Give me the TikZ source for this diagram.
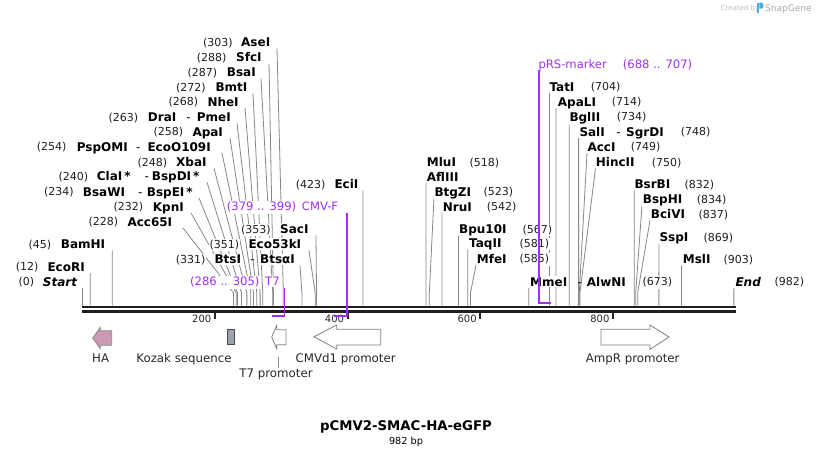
\documentclass[tikz,border=0pt]{standalone}
\usepackage{fontspec}
\setmainfont{DejaVu Sans}
\usetikzlibrary{calc}
\pgfdeclarelayer{back}
\pgfdeclarelayer{bg}
\pgfdeclarelayer{fore}
\pgfsetlayers{back,bg,main,fore}
\definecolor{prim}{RGB}{160,48,240}
\definecolor{leadc}{RGB}{135,135,135}
\definecolor{hafill}{RGB}{204,153,178}
\definecolor{kozfill}{RGB}{156,163,172}
\definecolor{featc}{RGB}{40,40,40}
\definecolor{wmc}{RGB}{190,190,190}
\definecolor{logoc}{RGB}{80,170,225}
\tikzset{
  labbg/.style={fill=white,inner xsep=0.6pt,inner ysep=1.2pt},
  numsty/.style={anchor=base west,labbg,font=\fontsize{11}{13}\selectfont,text=black!88},
  namesty/.style={anchor=base west,labbg,font=\fontsize{12}{14}\selectfont\bfseries,text=black},
  dashsty/.style={anchor=base west,inner xsep=0.6pt,inner ysep=1.2pt,font=\fontsize{12}{14}\selectfont,text=black},
  primsty/.style={anchor=base west,labbg,font=\fontsize{11.6}{14}\selectfont,text=prim},
  leadline/.style={draw=leadc,line width=0.8pt},
  primline/.style={draw=prim,line width=1.6pt},
  featlab/.style={anchor=base,inner sep=0pt,font=\fontsize{11.8}{14}\selectfont,text=featc},
  featarrow/.style={draw=black!50,line width=0.8pt,fill=white},
  ticksty/.style={draw=black!85,line width=2pt},
  ticklab/.style={anchor=base east,inner sep=0pt,font=\fontsize{10}{12}\selectfont,text=black!85},
}
\newcommand\enz[8]{%
  \node[numsty] (n-#1) at (#2-0.6,#6+4.2) {#3};
  \node[namesty] (t-#1) at (#4-0.6,#6+4.4) {#5};
  \coordinate (a-#1) at (#7,#6+6.3);
  \coordinate (s-#1) at ({82.3+0.6635*#8},305.5);
  \begin{pgfonlayer}{bg}
  \draw[leadline] (a-#1) -- (s-#1 |- knee) -- (s-#1);
  \end{pgfonlayer}
}
\newcommand\second[5]{%
  \node[dashsty] (d-#1) at (#2-0.6,#4+4.4) {-};
  \node[namesty] (u-#1) at (#3-0.6,#4+4.4) {#5};
}
\begin{document}
\begin{tikzpicture}[x=1pt,y=-1pt]
\begin{pgfonlayer}{back}
\fill[white] (0,0) rectangle (818,456);
\end{pgfonlayer}
\useasboundingbox (0,0) rectangle (818,456);
\coordinate (knee) at (0,293);

% watermark
\node[anchor=base west,inner sep=0pt,font=\fontsize{7}{8}\selectfont,text=wmc] (wm1) at (720.5,10) {Created by};
\fill[logoc] (757.3,2.5) rectangle (759.3,13);
\fill[logoc] (759.3,2.5) -- (761.3,2.5) .. controls (764.3,2.5) and (764.3,8.5) .. (761.3,8.5) -- (759.3,8.5) -- cycle;
\node[anchor=base west,inner sep=0pt,font=\fontsize{9}{10}\selectfont,text=wmc!90!black] (wm2) at (765,11) {SnapGene};

% backbone
\draw[line width=2.7pt,black!88] (82,307) -- (736,307);
\draw[line width=2.4pt,black!88] (82,311.5) -- (736,311.5);

% ticks
\foreach \t in {200,400,600,800}{
  \coordinate (tk\t) at ({82.3+0.6635*\t},312.5);
  \draw[ticksty] (tk\t) -- ++(0,6.5);
  \node[ticklab] (tl\t) at ({82.3+0.6635*\t-3.5},322.6) {\t};
}

% left-hand enzymes
\enz{AseI}{203}{(303)}{241}{AseI}{42.3}{277}{303}
\enz{SfcI}{196.7}{(288)}{236}{SfcI}{57.3}{269}{288}
\enz{BsaI}{187.3}{(287)}{226.7}{BsaI}{72.3}{261}{287}
\enz{BmtI}{176}{(272)}{215.3}{BmtI}{87}{253}{272}
\enz{NheI}{168.3}{(268)}{207.3}{NheI}{101.7}{245}{268}
\enz{DraI}{108.3}{(263)}{147.7}{DraI}{117}{237}{263}
\second{PmeI}{186.2}{196.7}{117}{PmeI}
\enz{ApaI}{153.3}{(258)}{192.3}{ApaI}{131.7}{230}{258}
\enz{PspOMI}{36.7}{(254)}{76.7}{PspOMI}{146.7}{222}{254}
\second{EcoOI}{136}{147.3}{146.7}{EcoO109I}
\enz{XbaI}{137.3}{(248)}{176}{XbaI}{162}{214}{248}
\enz{ClaI}{58.3}{(240)}{96.7}{ClaI\,*}{176}{207}{240}
\second{BspDI}{144.5}{151.7}{176}{BspDI\,*}
\enz{BsaWI}{44}{(234)}{82.7}{BsaWI}{191.7}{199}{234}
\second{BspEI}{137.8}{146.7}{191.7}{BspEI\,*}
\enz{KpnI}{113.3}{(232)}{152.7}{KpnI}{206.7}{191}{232}
\enz{AccSFI}{88.3}{(228)}{127.3}{Acc65I}{221.7}{183}{228}
\enz{BamHI}{28.3}{(45)}{60.7}{BamHI}{244}{112.2}{45}
\enz{EcoRI}{15.7}{(12)}{47.3}{EcoRI}{266.7}{90.3}{12}
\enz{Start}{18.3}{(0)}{42.7}{\itshape Start}{281.7}{82.3}{0}

% middle enzymes
\enz{EciI}{295.7}{(423)}{334.3}{EciI}{184}{363}{423}
\enz{SacI}{241}{(353)}{280}{SacI}{229}{316}{353}
\enz{EcoFIII}{209.3}{(351)}{248.3}{Eco53kI}{244}{309}{351}
\enz{BtsI}{175.7}{(331)}{214.3}{BtsI}{259.3}{300}{331}
\second{BtsaI}{250.2}{260}{259.3}{BtsαI}

% primers
\node[primsty] (pn-cmv) at (226.1,206.7+4.2) {(379 .. 399)};
\node[primsty] (pt-cmv) at (301.1,206.7+4.2) {CMV-F};
\coordinate (pc-top) at ({82.3+0.6635*399},213);
\coordinate (pc-bot) at ({82.3+0.6635*399},316);
\coordinate (pc-left) at ({82.3+0.6635*379},316);

\node[primsty] (pn-t7) at (189.4,281.7+4.2) {(286 .. 305)};
\node[primsty] (pt-t7) at (264.4,281.7+4.2) {T7};
\coordinate (pt7-top) at ({82.3+0.6635*305},288);
\coordinate (pt7-bot) at ({82.3+0.6635*305},316);
\coordinate (pt7-left) at ({82.3+0.6635*286},316);

\node[primsty] (pt-prs) at (537.7,64+4.2) {pRS-marker};
\node[primsty] (pn-prs) at (622.1,64+4.2) {(688 .. 707)};
\coordinate (pr-top) at ({82.3+0.6635*688},70);
\coordinate (pr-bot) at ({82.3+0.6635*688},303);
\coordinate (pr-right) at ({82.3+0.6635*707},303);

\begin{pgfonlayer}{fore}
\draw[primline] (pc-top) -- (pc-bot) -- (pc-left);
\draw[primline] (pt7-top) -- (pt7-bot) -- (pt7-left);
\draw[primline] (pr-top) -- (pr-bot) -- (pr-right);
\end{pgfonlayer}

% right-hand enzymes
\enz{TatI}{590.7}{(704)}{549.3}{TatI}{86.7}{549.4}{704}
\enz{ApaLI}{611.7}{(714)}{557.7}{ApaLI}{101.7}{556}{714}
\enz{BglII}{616.7}{(734)}{569.3}{BglII}{116.7}{569.3}{734}
\enz{SalI}{680.7}{(748)}{579.3}{SalI}{131.7}{578.6}{748}
\second{SgrDI}{616.2}{626}{131.7}{SgrDI}
\enz{AccI}{630.7}{(749)}{587.3}{AccI}{146.7}{587}{749}
\enz{HincII}{651.7}{(750)}{595.7}{HincII}{162}{595.5}{750}
\node[namesty] (t-MluI) at (426.1,162+4.4) {MluI};
\node[numsty] (n-MluI) at (468.7,162+4.2) {(518)};
\node[namesty] (t-AflIII) at (426.1,176.7+4.4) {AflIII};
\coordinate (a-AflIII) at (426,183);
\coordinate (s-AflIII) at ({82.3+0.6635*518},305.5);
\begin{pgfonlayer}{bg}
\draw[leadline] (a-AflIII) -- (s-AflIII);
\end{pgfonlayer}
\enz{BtgZI}{483.3}{(523)}{434.3}{BtgZI}{191.7}{434}{523}
\enz{NruI}{486.7}{(542)}{442.7}{NruI}{206.7}{441.9}{542}
\enz{BpuI}{522.3}{(567)}{459}{Bpu10I}{229.3}{458.5}{567}
\enz{TaqII}{519.3}{(581)}{469}{TaqII}{243.3}{467.8}{581}
\enz{MfeI}{519.3}{(585)}{476.7}{MfeI}{258.7}{476}{585}
\enz{MmeI}{642.3}{(673)}{530}{MmeI}{281.7}{528.8}{673}
\second{AlwNI}{577.5}{586.7}{281.7}{AlwNI}
\enz{BsrBI}{684.3}{(832)}{634.3}{BsrBI}{184}{634.3}{832}
\enz{BspHI}{696.7}{(834)}{642.7}{BspHI}{199}{642}{834}
\enz{BciVI}{698.3}{(837)}{650.7}{BciVI}{214}{650}{837}
\enz{SspI}{703.3}{(869)}{659.3}{SspI}{237.3}{658.9}{869}
\enz{MslI}{723.3}{(903)}{682.7}{MslI}{259}{681.5}{903}
\enz{End}{774.3}{(982)}{735.3}{\itshape End}{281.7}{733.9}{982}

% features
\draw[draw=black!45,line width=0.8pt,fill=hafill] (92.7,338) -- (100.3,327.3) -- (100.3,330.7) -- (111.7,330.7) -- (111.7,345.3) -- (100.3,345.3) -- (100.3,348.7) -- cycle;
\draw[draw=black!70,line width=0.8pt,fill=kozfill] (227.7,329) rectangle (234,344.7);
\draw[featarrow] (271.7,337) -- (276.7,325.3) -- (276.7,329.7) -- (286,329.7) -- (286,344.7) -- (276.7,344.7) -- (276.7,348.7) -- cycle;
\draw[featarrow] (314,336.8) -- (336.7,325) -- (336.7,329.3) -- (380.7,329.3) -- (380.7,345) -- (336.7,345) -- (336.7,349) -- cycle;
\draw[featarrow] (601,329.3) -- (650,329.3) -- (650,325) -- (669,337) -- (650,349.3) -- (650,345) -- (601,345) -- cycle;

\node[featlab] (f-HA) at (100.7,362.8) {HA};
\node[featlab] (f-koz) at (184,362.8) {Kozak sequence};
\node[featlab] (f-cmv) at (345.7,362.8) {CMVd1 promoter};
\node[featlab] (f-amp) at (632.7,362.8) {AmpR promoter};
\node[featlab] (f-t7) at (276,377.5) {T7 promoter};
\coordinate (t7c-top) at (278.3,356.7);
\coordinate (t7c-bot) at (278.3,367.7);
\draw[draw=black!45,line width=0.7pt] (t7c-top) -- (t7c-bot);

% title
\node[anchor=base,inner sep=0pt,font=\fontsize{13.3}{15}\selectfont\bfseries] (title) at (406,430.5) {pCMV2-SMAC-HA-eGFP};
\node[anchor=base,inner sep=0pt,font=\fontsize{9.7}{11}\selectfont] (bp) at (406,444.2) {982 bp};
\end{tikzpicture}
\end{document}
